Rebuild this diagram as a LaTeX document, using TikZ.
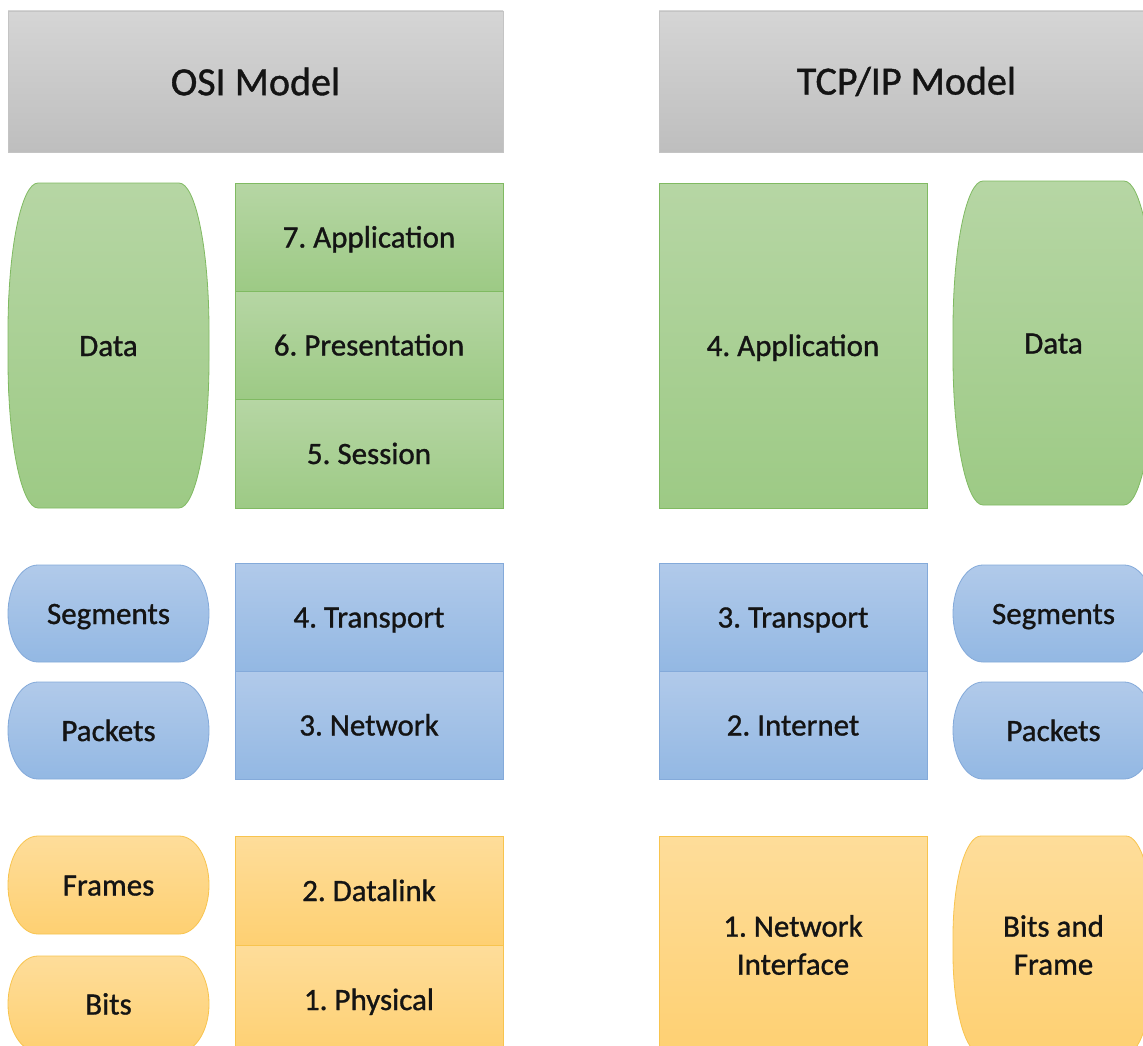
\documentclass[tikz,border=0pt]{standalone}
\usepackage{fontspec}
\setmainfont{Carlito}[FakeBold=1.0]
\frenchspacing
\definecolor{gtop}{RGB}{213,213,213}
\definecolor{gbot}{RGB}{190,190,190}
\definecolor{gline}{RGB}{196,196,196}
\definecolor{ntop}{RGB}{182,214,164}
\definecolor{nbot}{RGB}{157,202,133}
\definecolor{nline}{RGB}{128,186,98}
\definecolor{btop}{RGB}{177,202,234}
\definecolor{bbot}{RGB}{147,184,227}
\definecolor{bline}{RGB}{132,170,218}
\definecolor{ytop}{RGB}{254,221,154}
\definecolor{ybot}{RGB}{254,208,114}
\definecolor{yline}{RGB}{248,196,78}
\definecolor{txt}{RGB}{20,20,20}
\tikzset{
  box/.style={rectangle, inner sep=0pt, outer sep=0pt, anchor=north west, line width=0.8pt, text=txt, font=\fontsize{31}{38}\selectfont, align=center},
  one/.style={text height=24pt, text depth=3pt},
  hdr/.style={box, draw=gline, top color=gtop, bottom color=gbot, font=\fontsize{40}{48}\selectfont},
  grn/.style={draw=nline, top color=ntop, bottom color=nbot, line width=0.8pt},
  blu/.style={draw=bline, top color=btop, bottom color=bbot, line width=0.8pt},
  ylw/.style={draw=yline, top color=ytop, bottom color=ybot, line width=0.8pt},
  lbl/.style={text=txt, font=\fontsize{31}{38}\selectfont, align=center, inner sep=0pt},
}
% style, x0, y0, x1, y1, rx, ry
\newcommand\capsule[7]{%
  \path[#1] (#2+#6,#3) -- (#4-#6,#3)
    arc[start angle=-90, end angle=0, x radius=#6, y radius=#7]
    -- (#4,#5-#7)
    arc[start angle=0, end angle=90, x radius=#6, y radius=#7]
    -- (#2+#6,#5)
    arc[start angle=90, end angle=180, x radius=#6, y radius=#7]
    -- (#2,#3+#7)
    arc[start angle=180, end angle=270, x radius=#6, y radius=#7]
    -- cycle;}
\begin{document}
\begin{tikzpicture}[x=1pt, y=-1pt]
\useasboundingbox (0,0) rectangle (1143,1046);
\clip (0,0) rectangle (1143,1046);
\fill[white] (0,0) rectangle (1143,1046);
% headers
\node[hdr, minimum width=495pt, minimum height=141pt] (osi) at (8,11) {OSI Model};
\node[hdr, minimum width=495pt, minimum height=141pt] (tcp) at (659,11) {TCP/IP Model};
% OSI stack
\node[box, one, grn, minimum width=268pt, minimum height=108pt] (o7) at (235,183) {7. Application};
\node[box, one, grn, minimum width=268pt, minimum height=108pt] (o6) at (235,291) {6. Presentation};
\node[box, one, grn, minimum width=268pt, minimum height=109pt] (o5) at (235,399) {5. Session};
\node[box, one, blu, minimum width=268pt, minimum height=108pt] (o4) at (235,563) {4. Transport};
\node[box, one, blu, minimum width=268pt, minimum height=108pt] (o3) at (235,671) {3. Network};
\node[box, one, ylw, minimum width=268pt, minimum height=109pt] (o2) at (235,836) {2. Datalink};
\node[box, one, ylw, minimum width=268pt, minimum height=109pt] (o1) at (235,945) {1. Physical};
% OSI PDUs
\capsule{grn}{8}{183}{209}{508}{30}{148}
\node[lbl, one] (odata) at (108.5,345.5) {Data};
\capsule{blu}{8}{565}{209}{662}{30}{48.5}
\node[lbl, one] (oseg) at (108.5,613.5) {Segments};
\capsule{blu}{8}{682}{209}{779}{30}{48.5}
\node[lbl, one] (opkt) at (108.5,730.5) {Packets};
\capsule{ylw}{8}{836}{209}{934}{30}{49}
\node[lbl, one] (ofrm) at (108.5,885) {Frames};
\capsule{ylw}{8}{956}{209}{1052}{30}{48}
\node[lbl, one] (obit) at (108.5,1004) {Bits};
% TCP/IP stack
\node[box, one, grn, minimum width=268pt, minimum height=325pt] (t4) at (659,183) {4. Application};
\node[box, one, blu, minimum width=268pt, minimum height=108pt] (t3) at (659,563) {3. Transport};
\node[box, one, blu, minimum width=268pt, minimum height=108pt] (t2) at (659,671) {2. Internet};
\node[box, ylw, minimum width=268pt, minimum height=218pt] (t1) at (659,836) {1. Network\\Interface};
% TCP/IP PDUs
\capsule{grn}{953}{181}{1154}{505}{30}{148}
\node[lbl, one] (tdata) at (1053.5,343) {Data};
\capsule{blu}{953}{565}{1154}{662}{30}{48.5}
\node[lbl, one] (tseg) at (1053.5,613.5) {Segments};
\capsule{blu}{953}{682}{1154}{779}{30}{48.5}
\node[lbl, one] (tpkt) at (1053.5,730.5) {Packets};
\capsule{ylw}{953}{836}{1154}{1054}{28}{100}
\node[lbl] (tbit) at (1053.5,945) {Bits and\\Frame};
\end{tikzpicture}
\end{document}
